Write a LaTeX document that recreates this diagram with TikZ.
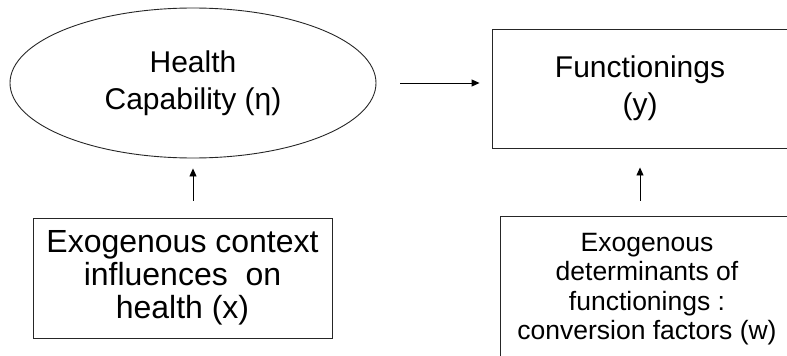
\documentclass[tikz,border=0pt]{standalone}
\usepackage{fontspec}
\setmainfont{Liberation Sans}
\usetikzlibrary{shapes.geometric,arrows.meta}
\begin{document}
\begin{tikzpicture}[x=1pt,y=-1pt]
  \tikzset{outline/.style={draw=black!85, line width=0.9pt, inner sep=0pt, align=center},
    bigtext/.style={font=\fontsize{30}{37}\selectfont},
    boxtext/.style={font=\fontsize{32}{33}\selectfont},
    smalltext/.style={font=\fontsize{26.5}{29.5}\selectfont},
    pointer/.style={-{Triangle[length=8pt,width=7pt]}, line width=0.9pt}}
  \clip (0,0) rectangle (787,356);
  \node[outline, ellipse, bigtext, minimum width=366pt, minimum height=150pt] at (193,83) (health) {Health\\Capability (η)};
  \node[outline, rectangle, bigtext, minimum width=296pt, minimum height=119pt] at (640,88.5) (func) {Functionings\\(y)};
  \node[outline, rectangle, boxtext, minimum width=299pt, minimum height=120pt] at (182.5,278) (ctx) {Exogenous context\\influences\ \ on\\health (x)};
  \node[outline, rectangle, smalltext, minimum width=294pt, minimum height=146pt] at (647,289) (conv) {Exogenous\\determinants of\\functionings :\\conversion factors (w)};

  \path[pointer, shorten <=24pt, shorten >=12pt] (health.east) edge (health.east -| func.west);
  \path[pointer, shorten <=17pt, shorten >=10pt] (health.south |- ctx.north) edge (health.south);
  \path[pointer, shorten <=15pt, shorten >=19pt] (func.south |- conv.north) edge (func.south);
\end{tikzpicture}
\end{document}
